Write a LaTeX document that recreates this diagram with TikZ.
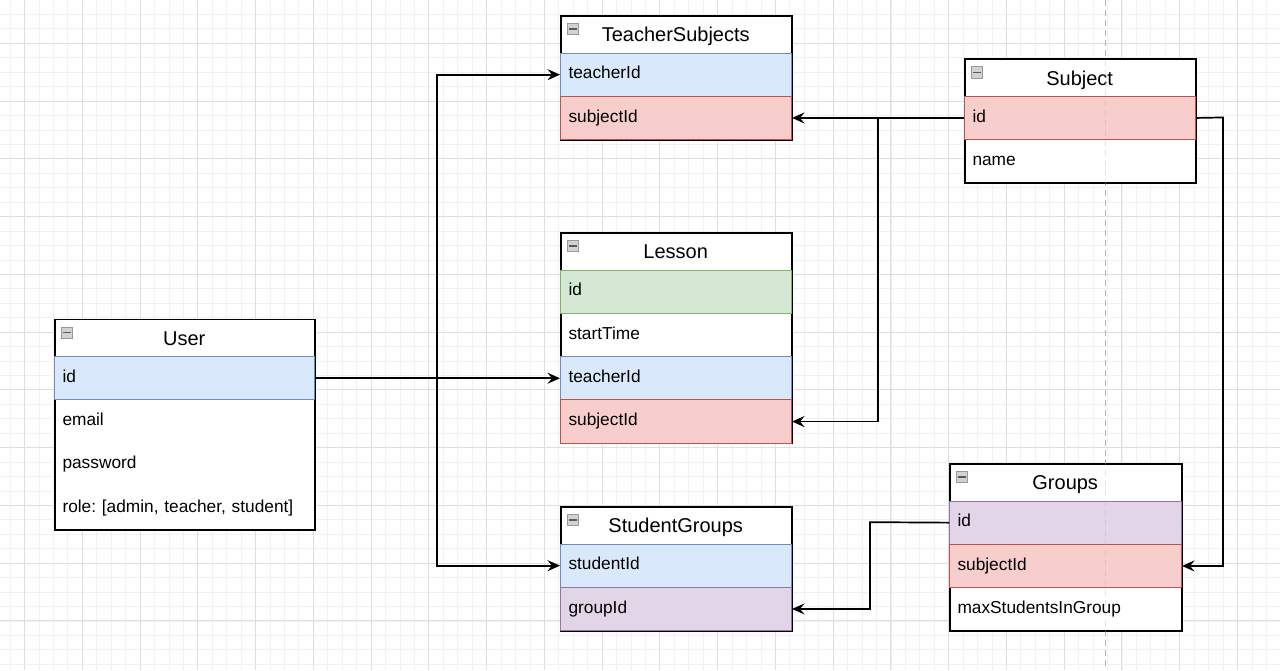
\documentclass[tikz,border=0pt]{standalone}
\usepackage{fontspec}
\setmainfont{Liberation Sans}
\usepackage{xcolor}
\usepackage{tikz}
\usetikzlibrary{arrows.meta}
\definecolor{blueF}{HTML}{DAE8FC}
\definecolor{blueD}{HTML}{6C8EBF}
\definecolor{redF}{HTML}{F8CECC}
\definecolor{redD}{HTML}{B85450}
\definecolor{greenF}{HTML}{D5E8D4}
\definecolor{greenD}{HTML}{82B366}
\definecolor{purpleF}{HTML}{E1D5E7}
\definecolor{purpleD}{HTML}{9673A6}
\definecolor{gridminor}{HTML}{F1F1F1}
\definecolor{gridmajor}{HTML}{DEDEDE}
\frenchspacing

\begin{document}
\begin{tikzpicture}[x=1pt, y=-1pt,
		every node/.style={rectangle, inner sep=0pt, anchor=north west},
		table/.style={draw=black, line width=1.5pt, fill=white},
		head/.style={minimum height=37.5pt, align=center, text height=16pt, text depth=0pt, font=\fontsize{20pt}{24pt}\selectfont},
		field/.style={minimum height=43.3pt, text width=#1, inner xsep=8pt, align=left, text height=12pt, text depth=3.8pt, line width=1pt, font=\fontsize{17.3pt}{20pt}\selectfont\frenchspacing},
		field/.default=215pt,
		toggle/.style={anchor=center, draw=gray!80, fill=gray!35, minimum size=11.5pt, line width=0.6pt,
			path picture={\draw[line width=1.4pt, black!65] ([xshift=2pt]path picture bounding box.west) -- ([xshift=-2pt]path picture bounding box.east);}},
		link/.style={draw=black, line width=1.7pt, -{Stealth[length=12.5pt, width=11pt, inset=4.5pt]}}]
				\useasboundingbox[fill=white] (0,0) rectangle (1280,670);
				\foreach \i in {0,...,88} \draw[gridminor, line width=0.8pt] ({10.06+14.44*\i},0) -- ++(0,670);
				\foreach \j in {0,...,46} \draw[gridminor, line width=0.8pt] (0,{14.42+14.44*\j}) -- ++(1280,0);
				\foreach \i in {0,...,21} \draw[gridmajor, line width=0.8pt] ({24.5+57.75*\i},0) -- ++(0,670);
				\foreach \j in {0,...,11} \draw[gridmajor, line width=0.8pt] (0,{43.3+57.75*\j}) -- ++(1280,0);
				\draw[gray!60, line width=1pt, dash pattern=on 6pt off 4pt] (1105,0) -- (1105,670);
				
				\node (ts) at (560,15) [table, minimum width=231pt, minimum height=124.1pt] {};
				\node (ts-head) at (560,15) [head, minimum width=231pt] {TeacherSubjects};
				\node (ts-teacher) at (560,52.5) [field, fill=blueF, draw=blueD] {teacherId};
				\node (ts-subject) at (560,95.8) [field, fill=redF, draw=redD] {subjectId};
				\node (ts-icon) at (573,29) [toggle] {};
				
				\node (subj) at (964,58.3) [table, minimum width=231pt, minimum height=124.1pt] {};
				\node (subj-head) at (964,58.3) [head, minimum width=231pt] {Subject};
				\node (subj-id) at (964,95.8) [field, fill=redF, draw=redD] {id};
				\node (subj-name) at (964,139.1) [field] {name};
				\node (subj-icon) at (977,72.3) [toggle] {};
				
				\node (lesson) at (560,232) [table, minimum width=231pt, minimum height=210.7pt] {};
				\node (lesson-head) at (560,232) [head, minimum width=231pt] {Lesson};
				\node (lesson-id) at (560,269.5) [field, fill=greenF, draw=greenD] {id};
				\node (lesson-start) at (560,312.8) [field] {startTime};
				\node (lesson-teacher) at (560,356.1) [field, fill=blueF, draw=blueD] {teacherId};
				\node (lesson-subject) at (560,399.4) [field, fill=redF, draw=redD] {subjectId};
				\node (lesson-icon) at (573,246) [toggle] {};
				
				\node (user) at (54,318.6) [table, minimum width=260pt, minimum height=210.7pt] {};
				\node (user-head) at (54,318.6) [head, minimum width=260pt] {User};
				\node (user-id) at (54,356.1) [field=244pt, fill=blueF, draw=blueD] {id};
				\node (user-email) at (54,399.4) [field=244pt] {email};
				\node (user-pass) at (54,442.7) [field=244pt] {password};
				\node (user-role) at (54,486) [field=244pt] {role: [admin, teacher, student]};
				\node (user-icon) at (67,332.6) [toggle] {};
				
				\node (sg) at (560,506) [table, minimum width=231pt, minimum height=124.1pt] {};
				\node (sg-head) at (560,506) [head, minimum width=231pt] {StudentGroups};
				\node (sg-student) at (560,543.5) [field, fill=blueF, draw=blueD] {studentId};
				\node (sg-group) at (560,586.8) [field, fill=purpleF, draw=purpleD] {groupId};
				\node (sg-icon) at (573,520) [toggle] {};
				
				\node (groups) at (949,463) [table, minimum width=232pt, minimum height=167.4pt] {};
				\node (groups-head) at (949,463) [head, minimum width=232pt] {Groups};
				\node (groups-id) at (949,500.5) [field=216pt, fill=purpleF, draw=purpleD] {id};
				\node (groups-subject) at (949,543.8) [field=216pt, fill=redF, draw=redD] {subjectId};
				\node (groups-max) at (949,587.1) [field=216pt] {maxStudentsInGroup};
				\node (groups-icon) at (962,477) [toggle] {};
				
				\draw[gray!60, opacity=0.35, line width=1pt, dash pattern=on 6pt off 4pt] (1105,0) -- (1105,670);
				
				\coordinate (split) at (437,377.75);
				\coordinate (subj-turn) at (878,117.45);
				\coordinate (subj-right) at (1223,117.45);
				\coordinate (grp-turn) at (870,522.15);
				
				\draw[link] (user-id.east) -- (lesson-teacher.west);
				\draw[link] (split) |- (ts-teacher.west);
				\draw[link] (split) |- (sg-student.west);
				\draw[link] (subj-id.west) -- (ts-subject.east);
				\draw[link] (subj-turn) |- (lesson-subject.east);
				\draw[link] (subj-id.east) -- (subj-right) |- (groups-subject.east);
				\draw[link] (groups-id.west) -- (grp-turn) |- (sg-group.east);
			\end{tikzpicture}
\end{document}
